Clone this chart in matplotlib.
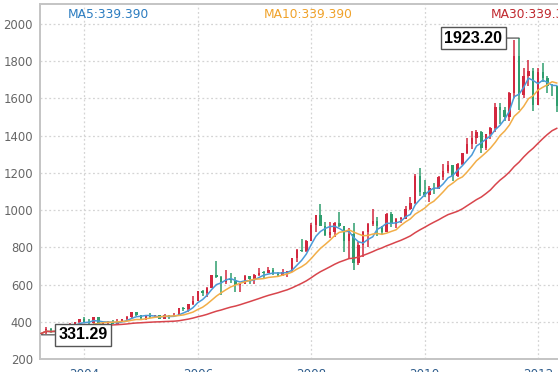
import matplotlib
matplotlib.use('Agg')
import matplotlib.pyplot as plt
import matplotlib.dates as mdates
import numpy as np
import pandas as pd

# Monthly OHLC, Apr 2003 .. May 2012
open_ = [
    336, 339, 361, 346, 354, 375, 384, 386, 398,
    416, 400, 396, 427, 388, 394, 394, 391, 408, 416, 428, 452,
    438, 422, 435, 427, 436, 417, 437, 430, 433, 473, 470, 495,
    513, 568, 556, 583, 654, 643, 614, 633, 623, 599, 604, 646,
    632, 650, 665, 662, 678, 660, 650, 666, 673, 743, 789, 783,
    834, 923, 972, 916, 865, 885, 930, 914, 833, 871, 718, 815,
    883, 928, 942, 916, 883, 979, 927, 955, 955, 1008, 1040, 1182,
    1096, 1083, 1118, 1113, 1180, 1212, 1244, 1181, 1248, 1307, 1357, 1387,
    1421, 1333, 1410, 1439, 1556, 1536, 1500, 1628, 1825, 1620, 1722, 1746,
    1566, 1740, 1710, 1668, 1664]
high = [
    341, 371, 367, 366, 376, 390, 393, 399, 417,
    426, 417, 428, 427, 395, 404, 410, 416, 418, 430, 456, 456,
    440, 439, 448, 439, 437, 443, 439, 448, 476, 479, 497, 540,
    569, 574, 588, 654, 730, 645, 677, 663, 640, 611, 650, 649,
    657, 689, 675, 693, 692, 671, 683, 676, 745, 790, 848, 838,
    930, 976, 1033, 937, 935, 934, 988, 917, 905, 932, 830, 889,
    932, 1006, 962, 916, 983, 990, 960, 963, 1024, 1070, 1195, 1227,
    1162, 1127, 1148, 1183, 1249, 1265, 1244, 1251, 1308, 1388, 1424, 1431,
    1424, 1411, 1448, 1576, 1577, 1553, 1632, 1911, 1923.2, 1764, 1804, 1763,
    1764, 1791, 1718, 1677, 1667]
low = [
    331.29, 337, 342, 342, 351, 369, 371, 376, 396,
    399, 391, 391, 384, 371, 384, 387, 390, 400, 411, 422, 431,
    418, 411, 424, 424, 414, 414, 418, 430, 433, 457, 456, 490,
    513, 538, 534, 582, 635, 543, 606, 611, 560, 563, 602, 605,
    603, 647, 636, 662, 650, 643, 648, 641, 667, 724, 774, 778,
    834, 881, 913, 862, 851, 858, 911, 775, 737, 681, 705, 751,
    801, 917, 864, 866, 881, 910, 904, 931, 954, 1003, 1035, 1075,
    1073, 1045, 1087, 1112, 1160, 1202, 1155, 1178, 1241, 1299, 1330, 1356,
    1309, 1324, 1381, 1417, 1462, 1478, 1481, 1601, 1535, 1603, 1668, 1532,
    1563, 1690, 1627, 1611, 1527]
close = [
    339.39, 361, 346, 354, 375, 384, 386, 398, 416,
    400, 396, 427, 388, 394, 394, 391, 408, 416, 428, 452, 438,
    422, 435, 427, 436, 417, 437, 430, 433, 473, 470, 495, 513,
    568, 556, 583, 654, 643, 614, 633, 623, 599, 604, 646, 632,
    650, 665, 662, 678, 660, 650, 666, 673, 743, 789, 783, 834,
    923, 972, 916, 865, 885, 930, 914, 833, 871, 718, 815, 883,
    928, 942, 916, 883, 979, 927, 955, 955, 1008, 1040, 1182, 1096,
    1083, 1118, 1113, 1180, 1212, 1244, 1181, 1248, 1307, 1357, 1387, 1421,
    1333, 1410, 1439, 1556, 1536, 1500, 1628, 1825, 1620, 1722, 1746, 1566,
    1740, 1710, 1668, 1664, 1560]
start_month = '2003-04-01'
ma_windows = [5, 10, 30]
ma_names = ['MA5', 'MA10', 'MA30']
year_ticks = [2004, 2006, 2008, 2010, 2012]
y_ticks = [200, 400, 600, 800, 1000, 1200, 1400, 1600, 1800, 2000]

RED = '#d2283f'
GREEN = '#2f9e6e'
MA_COLORS = ['#4b9ad8', '#f2ae48', '#d8454c']
MA_TEXT_COLORS = ['#2b7cc0', '#f0a22a', '#c0282e']

o = np.array(open_, float)
h = np.array(high, float)
l = np.array(low, float)
c = np.array(close, float)
dates = pd.date_range(start_month, periods=len(c), freq='MS')
x = mdates.date2num(dates)

fig = plt.figure(figsize=(5.58, 3.72), dpi=100)
ax = fig.add_axes([40 / 558, (372 - 359.3) / 372, 518 / 558, (359.3 - 4) / 372])

colors = np.where(c >= o, RED, GREEN)
ax.vlines(x, l, h, colors=colors, lw=1.1, zorder=3)
body = np.maximum(np.abs(c - o), 4)
ax.bar(x, body, bottom=np.minimum(o, c), width=16, color=colors, zorder=3, linewidth=0)

s = pd.Series(c)
for w, col in zip(ma_windows, MA_COLORS):
    ma = s.rolling(w, min_periods=1).mean().values
    ax.plot(x, ma, color=col, lw=1.1, zorder=4)

# high / low markers
imax = int(np.argmax(h))
imin = int(np.argmin(l))
box = dict(boxstyle='square,pad=0.22', fc='white', ec='#555555', lw=1.0)
ax.annotate(f'{h[imax]:.2f}', xy=(x[imax], h[imax]), xytext=(-17, 0),
            textcoords='offset pixels', ha='right', va='center',
            fontsize=11.5, fontweight='bold', family='Liberation Sans',
            bbox=box, zorder=6,
            arrowprops=dict(arrowstyle='-', color='#555555', lw=0.9,
                            shrinkA=0, shrinkB=0))
ax.annotate(f'{l[imin]:.2f}', xy=(x[imin], l[imin]), xytext=(17, 0),
            textcoords='offset pixels', ha='left', va='center',
            fontsize=11.5, fontweight='bold', family='Liberation Sans',
            bbox=box, zorder=6,
            arrowprops=dict(arrowstyle='-', color='#555555', lw=0.9,
                            shrinkA=0, shrinkB=0))

ax.set_xlim(mdates.date2num(pd.Timestamp('2003-03-22')),
            mdates.date2num(pd.Timestamp('2012-05-09')))
ax.set_ylim(200, 2106)
ax.set_yticks(y_ticks)
ax.set_yticklabels([str(v) for v in y_ticks])
ax.set_xticks([mdates.date2num(pd.Timestamp(f'{y}-01-01')) for y in year_ticks])
ax.set_xticklabels([str(y) for y in year_ticks])
ax.tick_params(axis='y', length=0, pad=5, labelsize=8.4, labelcolor='#666666')
ax.tick_params(axis='x', length=0, pad=6, labelsize=8.6, labelcolor='#2f5d8c')
ax.grid(True, color='#d4d4d4', lw=0.9, linestyle=(0, (1.5, 2)), zorder=0)
ax.set_axisbelow(True)
for side in ['left', 'top', 'bottom']:
    ax.spines[side].set_color('#c4c4c4')
    ax.spines[side].set_linewidth(1.4)
ax.spines['right'].set_visible(False)

first_val = c[0]
for name, xpx, col in zip(ma_names, [68, 264, 491], MA_TEXT_COLORS):
    fig.text(xpx / 558, 1 - 14 / 372, f'{name}:{first_val:.3f}', color=col,
             fontsize=8.8, ha='left', va='center')

fig.savefig('out.png', dpi=100)
